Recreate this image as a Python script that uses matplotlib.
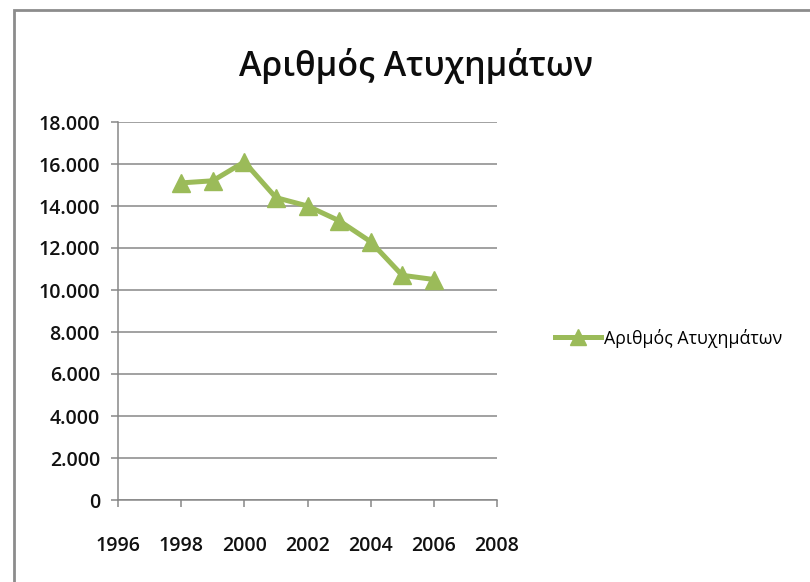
import matplotlib.pyplot as plt
from matplotlib.patches import Rectangle
from matplotlib.ticker import FuncFormatter

# accidents per year
years = [1998, 1999, 2000, 2001, 2002, 2003, 2004, 2005, 2006]
accidents = [15100, 15200, 16100, 14400, 14000, 13300, 12300, 10700, 10500]
series_name = "Αριθμός Ατυχημάτων"

plt.rcParams['font.family'] = ['Open Sans', 'DejaVu Sans']

fig = plt.figure(figsize=(8.1, 5.82), dpi=100)
fig.patches.append(Rectangle((14 / 810, -0.1), 1.1, 1 - 10 / 582 + 0.1,
                             transform=fig.transFigure, fill=False,
                             edgecolor='#8c8c8c', linewidth=2))

ax = fig.add_axes([118 / 810, 1 - 500 / 582, (497 - 118) / 810, (500 - 122) / 582])

green = '#9bbb59'
ax.plot(years, accidents, color=green, linewidth=3.6, marker='^',
        markersize=13, label=series_name, solid_joinstyle='miter')

ax.set_xlim(1996, 2008)
ax.set_ylim(0, 18000)
ax.set_xticks(range(1996, 2009, 2))
ax.set_yticks(range(0, 18001, 2000))
ax.yaxis.set_major_formatter(FuncFormatter(lambda v, p: f"{int(v):,}".replace(",", ".")))

ax.grid(axis='y', color='#878787', linewidth=1.1)
ax.set_axisbelow(True)
for s in ['top', 'right']:
    ax.spines[s].set_visible(False)
for s in ['left', 'bottom']:
    ax.spines[s].set_color('#878787')
    ax.spines[s].set_linewidth(1.1)
ax.tick_params(axis='both', color='#878787', length=5, width=1.1,
               labelsize=14, labelcolor='#111111')
ax.tick_params(axis='y', pad=8)
ax.tick_params(axis='x', pad=21)
for lbl in ax.get_xticklabels() + ax.get_yticklabels():
    lbl.set_fontweight('semibold')

fig.text(416 / 810, 1 - 66 / 582, series_name, ha='center', va='center',
         fontsize=24.5, fontweight='semibold', color='#0d0d0d')

fig.legend(loc='center left', bbox_to_anchor=(548 / 810, 1 - 338 / 582),
           frameon=False, fontsize=12.8, handlelength=2.6, handletextpad=0.15,
           borderaxespad=0, markerscale=0.85)

plt.savefig('out.png', dpi=100)
